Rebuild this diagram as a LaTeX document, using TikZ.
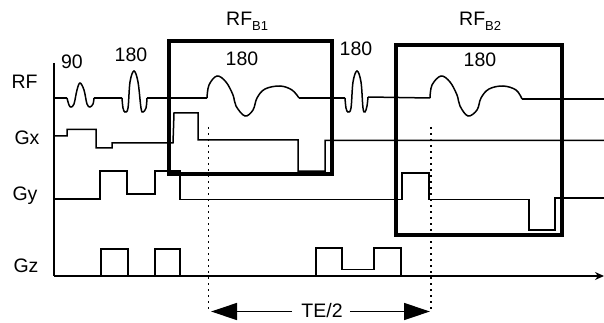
\documentclass[tikz,border=0pt]{standalone}
\usepackage{fontspec}
\setmainfont{Liberation Sans}
\usetikzlibrary{arrows.meta}
\newcommand{\rfsub}[1]{RF\raisebox{-5pt}{\fontsize{13}{13}\selectfont #1}}

\begin{document}
\begin{tikzpicture}[x=1pt, y=-1pt, >=Stealth, line join=miter,
    wave/.style={draw, line width=1.5pt},
    frame/.style={draw, line width=3.6pt},
    timing/.style={draw, line width=1.8pt, dash pattern=on 1.8pt off 4.2pt},
    lbl/.style={font=\fontsize{19.5}{19.5}\selectfont, inner sep=0pt}]
  \useasboundingbox (0,0) rectangle (604,323);

  % Channel labels
  \node[lbl] (rf) at (24.5,82) {RF};
  \node[lbl] (gx) at (27,138) {Gx};
  \node[lbl] (gy) at (25,196) {Gy};
  \node[lbl] (gz) at (26,266) {Gz};

  % Pulse labels
  \node[lbl] (p90) at (72,62) {90};
  \node[lbl] (p180a) at (131,55) {180};
  \node[lbl] (p180b) at (242,59) {180};
  \node[lbl] (p180c) at (356,49) {180};
  \node[lbl] (p180d) at (480,60) {180};
  \node[lbl, anchor=base west] (rfb1) at (226,26) {\rfsub{B1}};
  \node[lbl, anchor=base west] (rfb2) at (459,26) {\rfsub{B2}};

  % Axes
  \draw[wave] (54,63) -- (54,276);
  \draw[wave, -{Stealth[length=9pt,width=8pt]}] (54,276) -- (604,276);

  % RF channel
  \draw[wave] (54,98) -- (67,98);
  \draw[wave] plot[smooth, tension=0.6] coordinates {(67,98) (69,105) (71,107) (74,104) (77,90) (80,83)
    (84,90) (87,104) (90,107) (93,104) (94,98)};
  \draw[wave] (94,98) -- (122,98);
  \draw[wave] plot[smooth, tension=0.6] coordinates {(122,98) (123,108) (125,112) (128,108) (130,82) (134,71)
    (138,82) (141,108) (143,112) (146,108) (147,98)};
  \draw[wave] (147,98) -- (207,98);
  \draw[wave] plot[smooth, tension=0.6] coordinates {(207,98) (209,85) (217,76) (226,82) (233,95) (236,106)
    (245,116) (253,110) (257,98) (265,89) (280,86) (292,90) (299,98)};
  \draw[wave] (299,98) -- (345,98);
  \draw[wave] plot[smooth, tension=0.6] coordinates {(345,98) (346,108) (348,112) (351,108) (353,82) (357,71)
    (361,82) (363,108) (365,112) (367,106) (368,97)};
  \draw[wave] (368,97) -- (430,98);
  \draw[wave] plot[smooth, tension=0.6] coordinates {(430,98) (432,85) (441,76) (450,82) (457,95) (460,106)
    (468,116) (477,110) (481,98) (489,89) (503,86) (516,90) (522,99)};
  \draw[wave] (522,99) -- (604,99);

  % Gx channel
  \draw[wave] (54,136) -- (67,136) -- (67,129.5) -- (96,129.5) -- (96,148) -- (112,148) -- (112,143)
    -- (173,143) -- (174,113) -- (198,113) -- (198,140) -- (298,140) -- (298,171) -- (325,171)
    -- (325,140.5) -- (604,140.5);

  % Gy channel
  \draw[wave] (54,199) -- (100,199) -- (100,171) -- (127,171) -- (127,194) -- (155,194) -- (155,171)
    -- (180,171) -- (180,199.5) -- (402,199.5) -- (402,173) -- (429,173) -- (429,199.5) -- (529,199.5)
    -- (529,230) -- (555,230) -- (555,198) -- (604,198);

  % Gz channel
  \draw[wave] (101,276) -- (101,249) -- (128,249) -- (128,276);
  \draw[wave] (155,276) -- (155,249) -- (180,249) -- (180,276);
  \draw[wave] (316,276) -- (316,248) -- (342,248) -- (342,269.5) -- (374,269.5) -- (374,248)
    -- (401,248) -- (401,276);

  % Refocusing boxes
  \draw[frame] (169,41) rectangle (332,174);
  \draw[frame] (396,45) rectangle (562,235);

  % Echo time
  \draw[timing] (208.5,127) -- (208.5,311);
  \draw[timing] (431,127) -- (431,311);
  \coordinate (tel) at (211,311.5);
  \coordinate (ter) at (430,311.5);
  \node[lbl] (te) at (322,311) {TE/2};
  \draw[line width=1.3pt, -{Stealth[length=26pt,width=17pt,inset=0pt]}] (te.west) ++(-9,0.5) -- (tel);
  \draw[line width=1.3pt, -{Stealth[length=26pt,width=17pt,inset=0pt]}] (te.east) ++(7,0.5) -- (ter);
\end{tikzpicture}
\end{document}
